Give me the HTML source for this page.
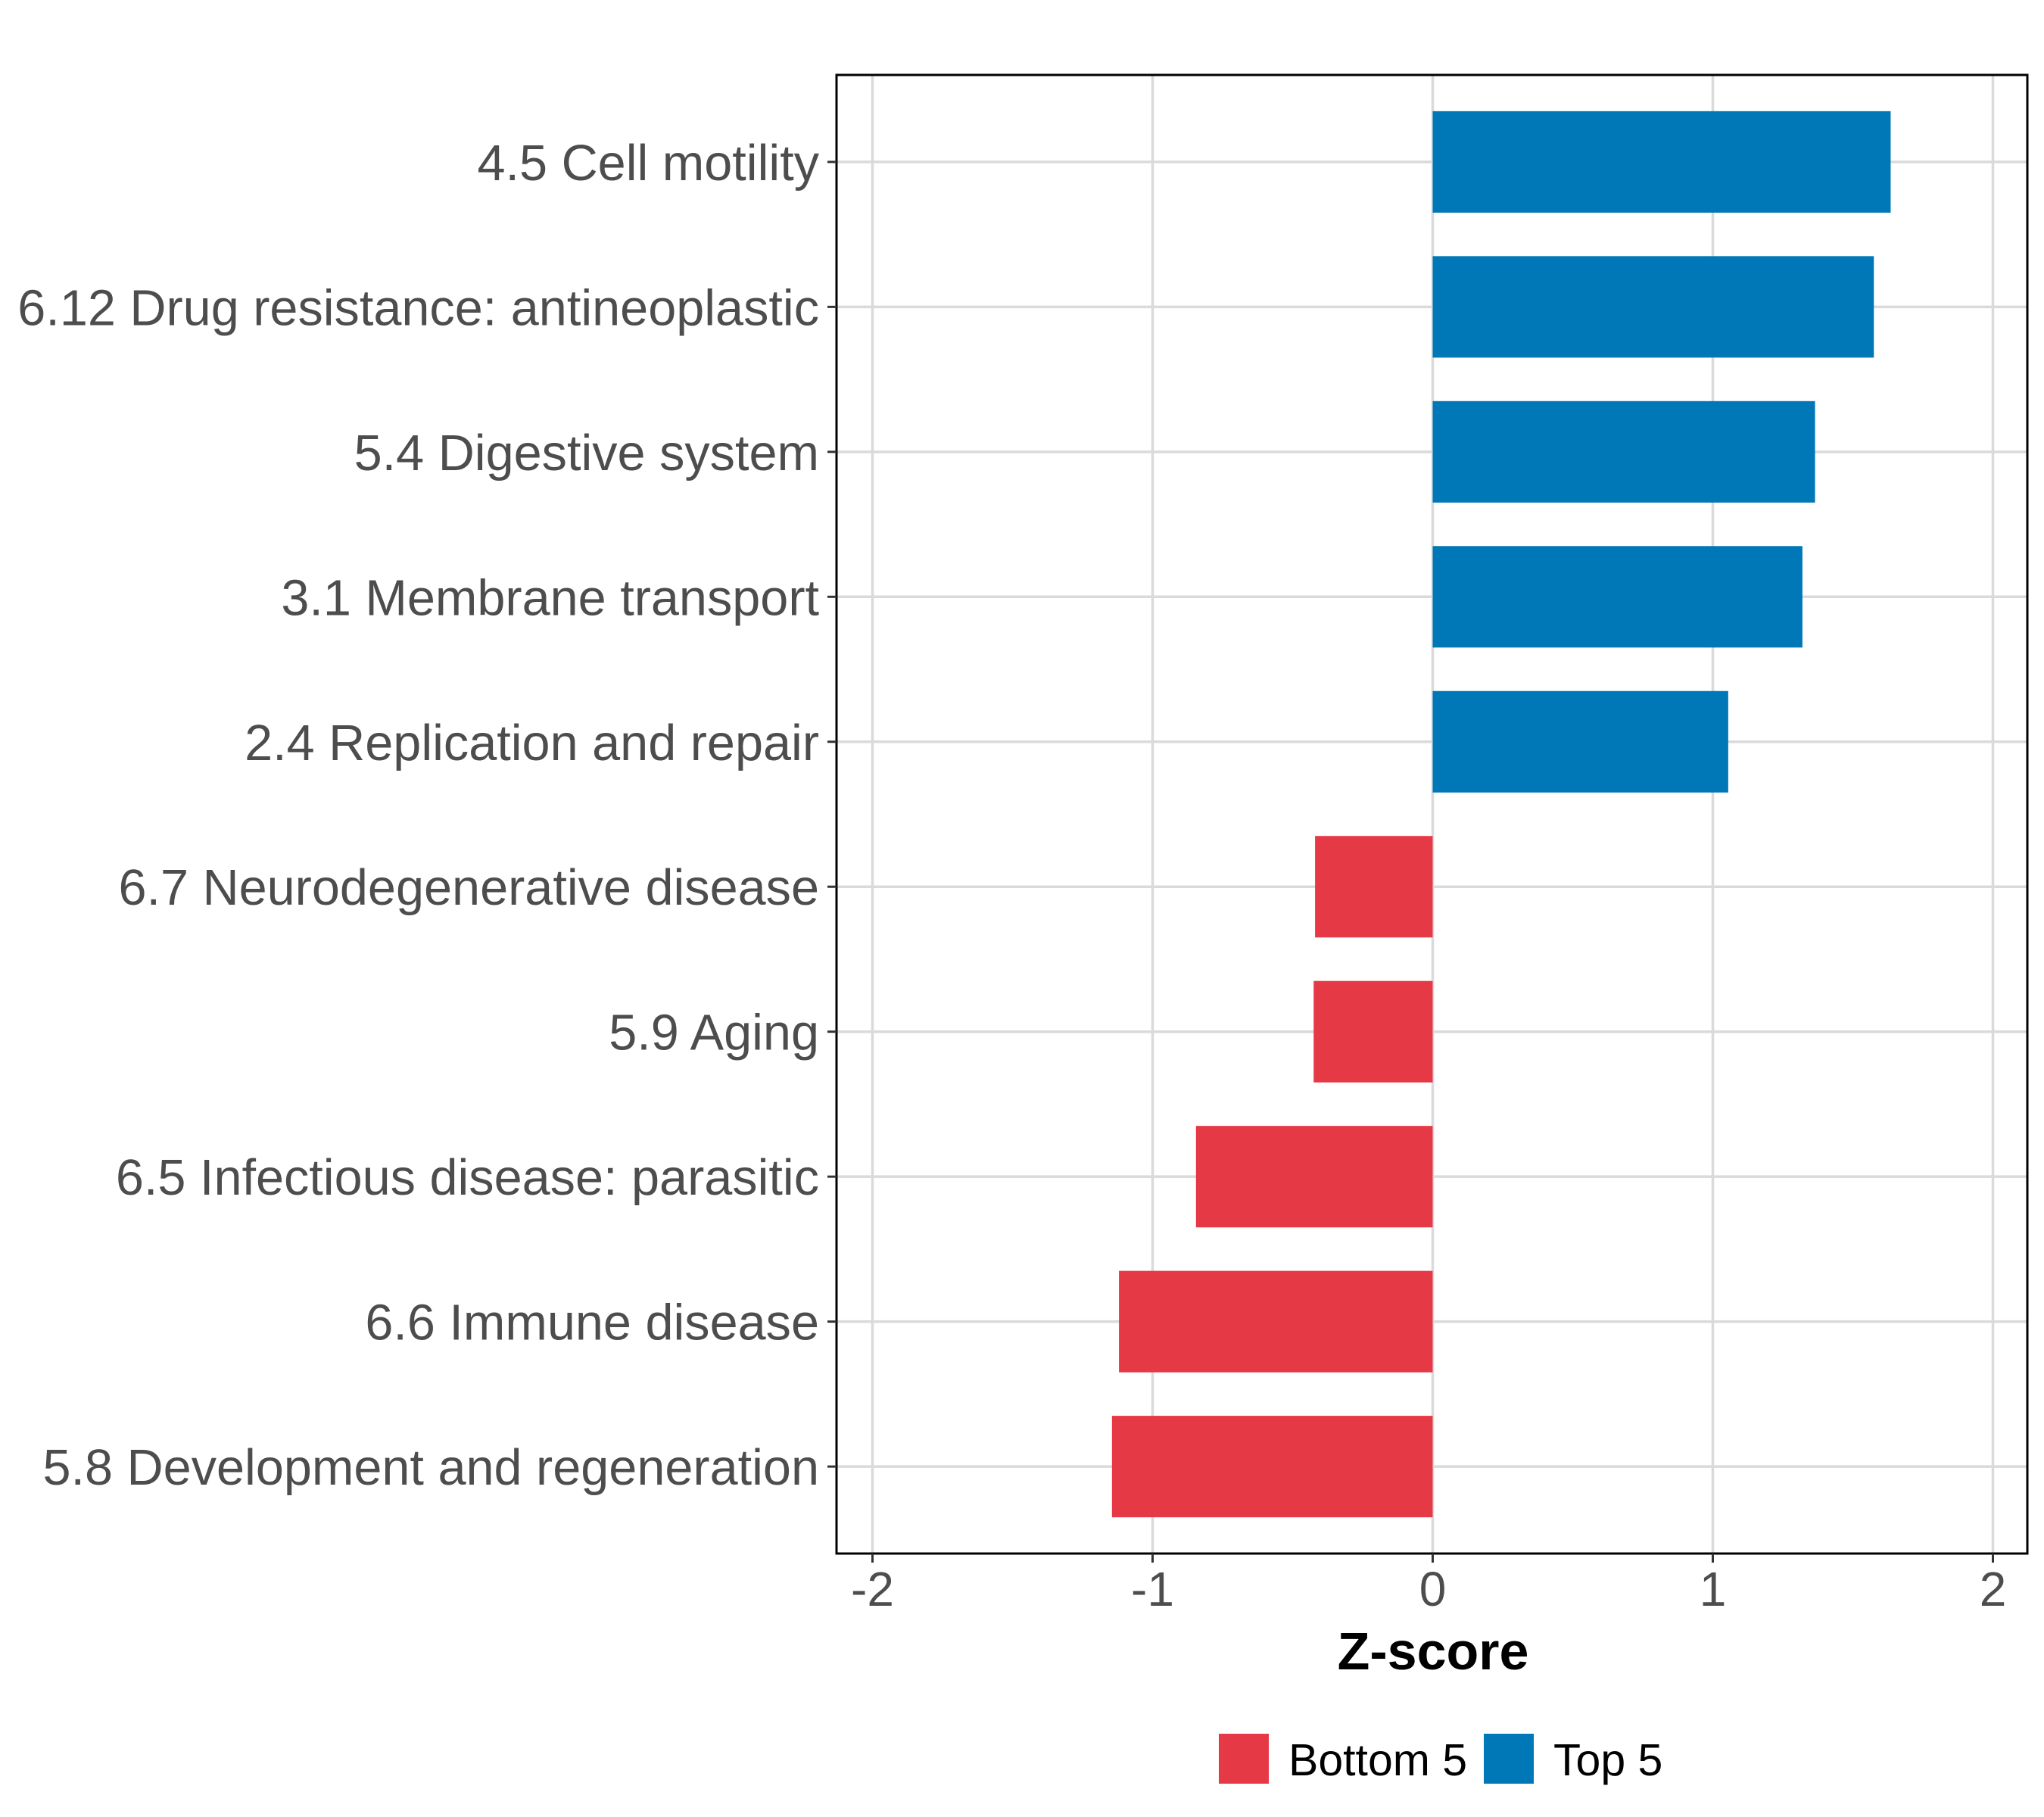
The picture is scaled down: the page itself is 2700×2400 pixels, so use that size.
<!DOCTYPE html>
<html><head><meta charset="utf-8"><style>
html,body{margin:0;padding:0;background:#fff}
svg{display:block;font-family:"Liberation Sans",Arial,sans-serif}
</style></head><body>
<svg id="chart" width="2700" height="2400" viewBox="0 0 2700 2400">
<g id="grid"></g>
<g id="bars"></g>
<rect x="1105" y="99" width="1573" height="1953" fill="none" stroke="#000" stroke-width="3"/>
<g id="yaxis"></g>
<g id="xaxis"></g>
<text x="1893" y="2205" text-anchor="middle" font-size="70" font-weight="bold" fill="#000">Z-score</text>
<g>
<rect x="1610" y="2290" width="66" height="66" fill="#E63946"/>
<text x="1702" y="2345" font-size="59" fill="#000">Bottom 5</text>
<rect x="1960" y="2290" width="66" height="66" fill="#0077B6"/>
<text x="2052" y="2345" font-size="59" fill="#000">Top 5</text>
</g>
</svg>
<script>
const categories = ["4.5 Cell motility","6.12 Drug resistance: antineoplastic","5.4 Digestive system","3.1 Membrane transport","2.4 Replication and repair","6.7 Neurodegenerative disease","5.9 Aging","6.5 Infectious disease: parasitic","6.6 Immune disease","5.8 Development and regeneration"];
const zscores = [1.635, 1.575, 1.365, 1.32, 1.055, -0.42, -0.425, -0.845, -1.12, -1.145];
const groups = ["Top 5","Top 5","Top 5","Top 5","Top 5","Bottom 5","Bottom 5","Bottom 5","Bottom 5","Bottom 5"];
const xTicks = [-2,-1,0,1,2];
const xTickLabels = ["-2","-1","0","1","2"];

const NS="http://www.w3.org/2000/svg";
const panelTop=99, panelBottom=2052, panelLeft=1105, panelRight=2678;
const x0=1892.5, unit=370;
function xs(v){return x0+v*unit;}
const band=(panelBottom-panelTop)/(categories.length-1+1.2);
function ys(i){return panelTop+(0.6+i)*band;}
function mk(tag,attrs,parent){const e=document.createElementNS(NS,tag);for(const k in attrs)e.setAttribute(k,attrs[k]);parent.appendChild(e);return e;}
const grid=document.getElementById('grid'),bars=document.getElementById('bars'),ya=document.getElementById('yaxis'),xa=document.getElementById('xaxis');
xTicks.forEach((t,i)=>{
  const l=mk('line',{x1:xs(t),x2:xs(t),y1:panelTop,y2:panelBottom,stroke:'#DADADA','stroke-width':3.5},grid);
  
  
  const tk=mk('line',{x1:xs(t),x2:xs(t),y1:panelBottom,y2:panelBottom+12,stroke:'#333','stroke-width':3},xa);
  
  
  const tx=mk('text',{x:xs(t),y:2121,'text-anchor':'middle','font-size':64,fill:'#4D4D4D'},xa);
  tx.textContent=xTickLabels[i];
  
  
});
categories.forEach((c,i)=>{
  const y=ys(i);
  const g=mk('line',{x1:panelLeft,x2:panelRight,y1:y,y2:y,stroke:'#DADADA','stroke-width':3.5},grid);
  
  
  const v=zscores[i], h=band*0.7;
  const r=mk('rect',{x:Math.min(xs(0),xs(v)),y:y-h/2,width:Math.abs(xs(v)-xs(0)),height:h,fill:groups[i]==="Top 5"?'#0077B6':'#E63946'},bars);
  
  
  const tk=mk('line',{x1:panelLeft-12,x2:panelLeft,y1:y,y2:y,stroke:'#333','stroke-width':3},ya);
  
  
  const tx=mk('text',{x:1082,y:y+24,'text-anchor':'end','font-size':66.6,fill:'#4D4D4D'},ya);
  tx.textContent=c;
  
  
});
</script>
</body></html>
